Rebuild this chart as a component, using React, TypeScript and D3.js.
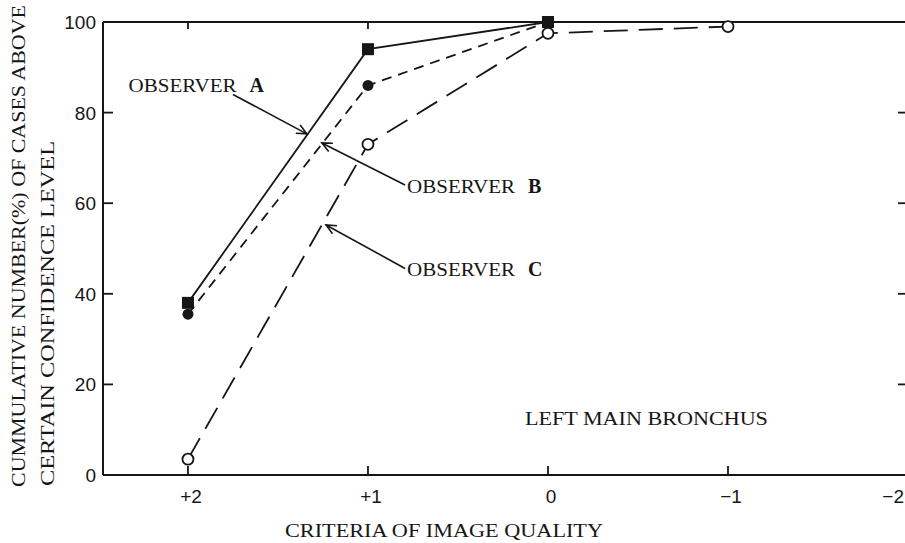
import React from "react";
import * as d3 from "d3";

const xValues = [2, 1, 0, -1, -2];
const xTickLabels = ["+2", "+1", "0", "\u22121", "\u22122"];
const yTicks = [0, 20, 40, 60, 80, 100];

const obsAx = [2, 1, 0];
const obsAy = [38, 94, 100];
const obsBx = [2, 1, 0];
const obsBy = [35.5, 86, 100];
const obsCx = [2, 1, 0, -1];
const obsCy = [3.5, 73, 97.5, 99];

// annotation anchors in data coordinates
const annoNames = ["A", "B", "C"];
const annoText = [
  [2.33, 84.5],
  [0.783, 62.3],
  [0.783, 44.0],
];
const annoTail = [
  [1.75, 84.0],
  [0.794, 64.0],
  [0.794, 45.6],
];
const annoTip = [
  [1.34, 75.3],
  [1.256, 73.3],
  [1.233, 55.2],
];

const W = 905;
const H = 543;

export default function App() {
  const x = d3.scaleLinear().domain([2.472, -2]).range([103, 908]);
  const y = d3.scaleLinear().domain([0, 100]).range([475, 22]);
  const line = d3
    .line<[number, number]>()
    .x((d) => x(d[0]))
    .y((d) => y(d[1]));
  const ink = "#161616";
  const serif = "'Liberation Serif', 'DejaVu Serif', serif";
  const sans = "'Liberation Sans', Arial, sans-serif";

  const ptsA = obsAx.map((v, i) => [v, obsAy[i]] as [number, number]);
  const ptsB = obsBx.map((v, i) => [v, obsBy[i]] as [number, number]);
  const ptsC = obsCx.map((v, i) => [v, obsCy[i]] as [number, number]);

  const arrowHead = (tx: number, ty: number, fx: number, fy: number) => {
    const ang = Math.atan2(ty - fy, tx - fx);
    const L = 11;
    const a = (25 * Math.PI) / 180;
    const p1 = [tx - L * Math.cos(ang - a), ty - L * Math.sin(ang - a)];
    const p2 = [tx - L * Math.cos(ang + a), ty - L * Math.sin(ang + a)];
    return `M${p1[0]},${p1[1]}L${tx},${ty}L${p2[0]},${p2[1]}`;
  };

  return (
    <svg
      width={W}
      height={H}
      style={{ position: "absolute", left: 0, top: 0, background: "#fff" }}
    >
      <rect x={0} y={0} width={W} height={H} fill="#fff" />
      {/* frame */}
      <g stroke={ink} strokeWidth={2} fill="none">
        <line x1={x.range()[0]} x2={x.range()[1]} y1={y(0)} y2={y(0)} />
        <line x1={x.range()[0]} x2={x.range()[1]} y1={y(100)} y2={y(100)} />
        <line x1={x.range()[0]} x2={x.range()[0]} y1={y(0)} y2={y(100)} />
        <line x1={x.range()[1]} x2={x.range()[1]} y1={y(0)} y2={y(100)} />
      </g>
      {/* ticks */}
      <g stroke={ink} strokeWidth={1.8}>
        {xValues.map((v) => (
          <g key={"xt" + v}>
            <line x1={x(v)} x2={x(v)} y1={y(0)} y2={y(0) - 9} />
            <line x1={x(v)} x2={x(v)} y1={y(100)} y2={y(100) + 7} />
          </g>
        ))}
        {yTicks.slice(1, -1).map((t) => (
          <g key={"yt" + t}>
            <line x1={x.range()[0]} x2={x.range()[0] + 10} y1={y(t)} y2={y(t)} />
            <line x1={x.range()[1]} x2={x.range()[1] - 10} y1={y(t)} y2={y(t)} />
          </g>
        ))}
      </g>
      {/* tick labels */}
      <g fill={ink} fontFamily={sans} fontSize={19}>
        {yTicks.map((t) => (
          <text key={"yl" + t} x={96} y={y(t) + 7} textAnchor="end">
            {t}
          </text>
        ))}
        {xValues.map((v, i) => {
          const last = i === xValues.length - 1;
          return (
            <text
              key={"xl" + v}
              x={last ? W - 1 : x(v) + 3}
              y={503}
              textAnchor={last ? "end" : "middle"}
            >
              {xTickLabels[i]}
            </text>
          );
        })}
      </g>
      {/* axis titles */}
      <g fill={ink} fontFamily={serif} fontSize={18}>
        <text
          x={0}
          y={0}
          transform={`translate(25,487) rotate(-90)`}
          textLength={482}
          lengthAdjust="spacingAndGlyphs"
        >
          CUMMULATIVE NUMBER(%) OF CASES ABOVE
        </text>
        <text
          x={0}
          y={0}
          transform={`translate(54,486) rotate(-90)`}
          textLength={345}
          lengthAdjust="spacingAndGlyphs"
        >
          CERTAIN CONFIDENCE LEVEL
        </text>
        <text x={285} y={537} textLength={318} lengthAdjust="spacingAndGlyphs">
          CRITERIA OF IMAGE QUALITY
        </text>
        <text
          x={x(0.128)}
          y={y(11)}
          textLength={243}
          lengthAdjust="spacingAndGlyphs"
        >
          LEFT MAIN BRONCHUS
        </text>
      </g>
      {/* series lines */}
      <path d={line(ptsA) || ""} fill="none" stroke={ink} strokeWidth={1.8} />
      <path
        d={line(ptsB) || ""}
        fill="none"
        stroke={ink}
        strokeWidth={1.8}
        strokeDasharray="10,7"
      />
      <path
        d={line(ptsC) || ""}
        fill="none"
        stroke={ink}
        strokeWidth={1.8}
        strokeDasharray="24,11"
      />
      {/* markers */}
      {ptsC.map((p, i) => (
        <circle
          key={"c" + i}
          cx={x(p[0])}
          cy={y(p[1])}
          r={5.5}
          fill="#fff"
          stroke={ink}
          strokeWidth={1.8}
        />
      ))}
      {ptsB.map((p, i) => (
        <circle key={"b" + i} cx={x(p[0])} cy={y(p[1])} r={5.5} fill={ink} />
      ))}
      {ptsA.map((p, i) => (
        <rect
          key={"a" + i}
          x={x(p[0]) - 6}
          y={y(p[1]) - 6}
          width={12}
          height={12}
          fill={ink}
        />
      ))}
      {/* annotations */}
      {annoNames.map((n, i) => {
        const tx = x(annoTip[i][0]);
        const ty = y(annoTip[i][1]);
        const fx = x(annoTail[i][0]);
        const fy = y(annoTail[i][1]);
        return (
          <g key={"an" + n}>
            <line x1={fx} y1={fy} x2={tx} y2={ty} stroke={ink} strokeWidth={1.6} />
            <path
              d={arrowHead(tx, ty, fx, fy)}
              fill="none"
              stroke={ink}
              strokeWidth={1.6}
            />
            <text
              x={x(annoText[i][0])}
              y={y(annoText[i][1])}
              fontFamily={serif}
              fontSize={19}
              fill={ink}
            >
              <tspan textLength={108} lengthAdjust="spacingAndGlyphs">
                OBSERVER
              </tspan>
              <tspan dx={13} fontWeight="bold" fontSize={20}>
                {n}
              </tspan>
            </text>
          </g>
        );
      })}
    </svg>
  );
}
